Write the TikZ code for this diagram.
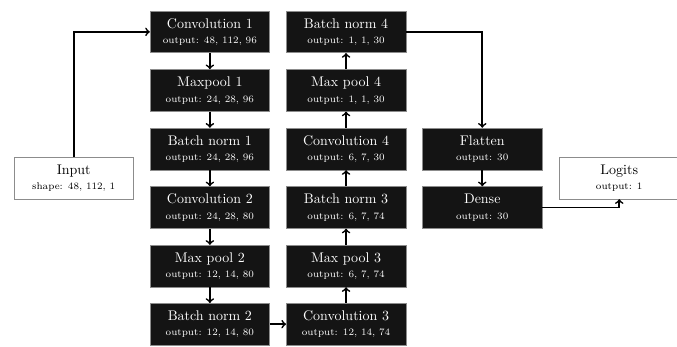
\documentclass[tikz,border=0pt]{standalone}
\usepackage{tikz}
\usepackage{xcolor}
\definecolor{layer}{HTML}{141414}
\definecolor{edge}{HTML}{8C8C8C}
\tikzset{layer/.style={white,draw=edge,fill=layer,rectangle,align=center,minimum width=3cm,minimum height=1.05cm,inner sep=1pt}}
\tikzset{io/.style={black,draw=edge,fill=white,rectangle,align=center,minimum width=3cm,minimum height=1.05cm,inner sep=1pt}}
\tikzset{flow/.style={->,very thick,black}}
\newcommand{\info}[1]{\\[-1pt]{\scriptsize #1}}

\begin{document}
\begin{tikzpicture}
    \useasboundingbox (0,0) rectangle (17,-8.69);

    \node[io] (input) at (1.85,-4.47) {Input\info{shape: 48, 112, 1}};

    \node[layer] (conv1) at (5.27,-0.80) {Convolution 1\info{output: 48, 112, 96}};
    \node[layer] (pool1) at (5.27,-2.27) {Maxpool 1\info{output: 24, 28, 96}};
    \node[layer] (bn1) at (5.27,-3.74) {Batch norm 1\info{output: 24, 28, 96}};
    \node[layer] (conv2) at (5.27,-5.21) {Convolution 2\info{output: 24, 28, 80}};
    \node[layer] (pool2) at (5.27,-6.68) {Max pool 2\info{output: 12, 14, 80}};
    \node[layer] (bn2) at (5.27,-8.14) {Batch norm 2\info{output: 12, 14, 80}};

    \node[layer] (conv3) at (8.69,-8.14) {Convolution 3\info{output: 12, 14, 74}};
    \node[layer] (pool3) at (8.69,-6.68) {Max pool 3\info{output: 6, 7, 74}};
    \node[layer] (bn3) at (8.69,-5.21) {Batch norm 3\info{output: 6, 7, 74}};
    \node[layer] (conv4) at (8.69,-3.74) {Convolution 4\info{output: 6, 7, 30}};
    \node[layer] (pool4) at (8.69,-2.27) {Max pool 4\info{output: 1, 1, 30}};
    \node[layer] (bn4) at (8.69,-0.80) {Batch norm 4\info{output: 1, 1, 30}};

    \node[layer] (flatten) at (12.11,-3.74) {Flatten\info{output: 30}};
    \node[layer] (dense) at (12.11,-5.21) {Dense\info{output: 30}};

    \node[io] (logits) at (15.55,-4.47) {Logits\info{output: 1}};

    \draw[flow] (input) |- (conv1);
    \draw[flow] (conv1) -- (pool1);
    \draw[flow] (pool1) -- (bn1);
    \draw[flow] (bn1) -- (conv2);
    \draw[flow] (conv2) -- (pool2);
    \draw[flow] (pool2) -- (bn2);

    \draw[flow] (bn2) -- (conv3);

    \draw[flow] (conv3) -- (pool3);
    \draw[flow] (pool3) -- (bn3);
    \draw[flow] (bn3) -- (conv4);
    \draw[flow] (conv4) -- (pool4);
    \draw[flow] (pool4) -- (bn4);

    \draw[flow] (bn4) -| (flatten);
    \draw[flow] (flatten) -- (dense);
    \draw[flow] (dense) -| (logits);
\end{tikzpicture}
\end{document}
